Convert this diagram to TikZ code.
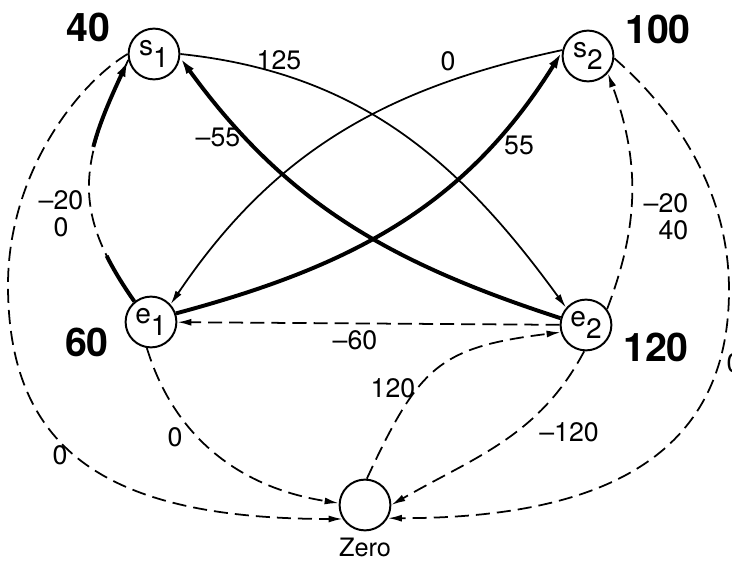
\documentclass[tikz,border=0pt]{standalone}
\usepackage{fontspec}
\setmainfont{TeX Gyre Heros}
\usetikzlibrary{arrows.meta,positioning}
\newcommand{\lowidx}[1]{\raisebox{-0.4em}{#1}}
\tikzset{
  fn state/.style={
    draw=black,
    line width=1.4pt,
    circle,
    minimum size=1.27cm,
    inner sep=0pt,
    font=\fontsize{20}{22}\selectfont
  },
  fn flow/.style={-{Latex[length=10pt,width=5pt]},line width=1.25pt},
  fn heavy/.style={-{Latex[length=12pt,width=6.5pt]},line width=2.8pt},
  fn slack/.style={fn flow,dash pattern=on 10pt off 5pt},
  fn cost/.style={font=\fontsize{19}{19}\selectfont,inner sep=0pt},
  fn supply/.style={font=\fontsize{28}{30}\selectfont\bfseries,inner sep=0pt}
}

\begin{document}
\begin{tikzpicture}[x=0.025cm,y=0.025cm]
  \useasboundingbox (0,0) rectangle (732,561);

  \node[fn state] (s1) at (154,507) {s\lowidx{1}};
  \node[fn state] (s2) at (588,505) {s\lowidx{2}};
  \node[fn state] (e1) at (151,239) {e\lowidx{1}};
  \node[fn state] (e2) at (586,236) {e\lowidx{2}};
  \node[fn state] (zero) at (365,56) {};
  \node[fn cost,font=\fontsize{18}{20}\selectfont,below=4.5pt of zero] (zero-tag) {Zero};

  \node[fn supply] (s1-supply) at (88,534) {40};
  \node[fn supply] (s2-supply) at (658,532) {100};
  \node[fn supply] (e1-supply) at (87,219) {60};
  \node[fn supply] (e2-supply) at (656,214) {120};

  \draw[fn flow] (s1.0) to[out=-6,in=126] (e2.139);
  \node[fn cost] (c-s1e2) at (279,501) {125};

  \draw[fn flow] (s2.167) to[out=192,in=56] (e1.42);
  \node[fn cost] (c-s2e1) at (448,500) {0};

  \draw[fn heavy] (e2.165) to[out=162,in=-54] (s1.-8);
  \node[fn cost] (c-e2s1) at (218,424) {--55};

  \draw[fn heavy] (e1.19) to[out=15,in=238] (s2.171);
  \node[fn cost] (c-e1s2) at (519,416) {55};

  \draw[fn slack,-] (e1.129) to[out=125,in=245,looseness=1.2] (s1.193);
  \draw[fn heavy,dash pattern=on 38pt off 80pt on 400pt]
    (e1.129) to[out=125,in=245,looseness=1.2] (s1.193);
  \node[fn cost,align=center] (c-e1s1) at (61,347) {--20\\0};

  \draw[fn slack] (e2.37) to[out=69,in=-70] (s2.-41);
  \node[fn cost,align=right] (c-e2s2) at (666,344) {--20\\40};

  \draw[fn slack] (e2) -- (e1);
  \node[fn cost] (c-e2e1) at (355,221) {--60};

  \draw[fn slack] (e1.-99) to[out=-73,in=171] (zero.176);
  \node[fn cost] (c-e1zero) at (175,124) {0};

  \draw[fn slack] (s1.180)
    to[out=211,in=90,out distance=1.5cm,in distance=2.75cm] (8,276)
    to[out=-90,in=180,out distance=4.2cm,in distance=5.8cm] (zero.212);
  \node[fn cost] (c-s1zero) at (60,106) {0};

  \draw[fn slack] (zero.86) to[out=65,in=187,looseness=1.3] (e2.196);
  \node[fn cost] (c-zeroe2) at (393,173) {120};

  \draw[fn slack] (e2.-94) to[out=-118,in=30] (zero.0);
  \node[fn cost] (c-e2zero) at (569,129) {--120};

  \draw[fn slack] (s2.-5)
    to[out=-41,in=90,out distance=2cm,in distance=2.5cm] (729,271)
    to[out=-90,in=0,out distance=3.9cm,in distance=5.75cm] (zero.-30);
  \node[fn cost] (c-s2zero) at (734,198) {0};
\end{tikzpicture}
\end{document}
